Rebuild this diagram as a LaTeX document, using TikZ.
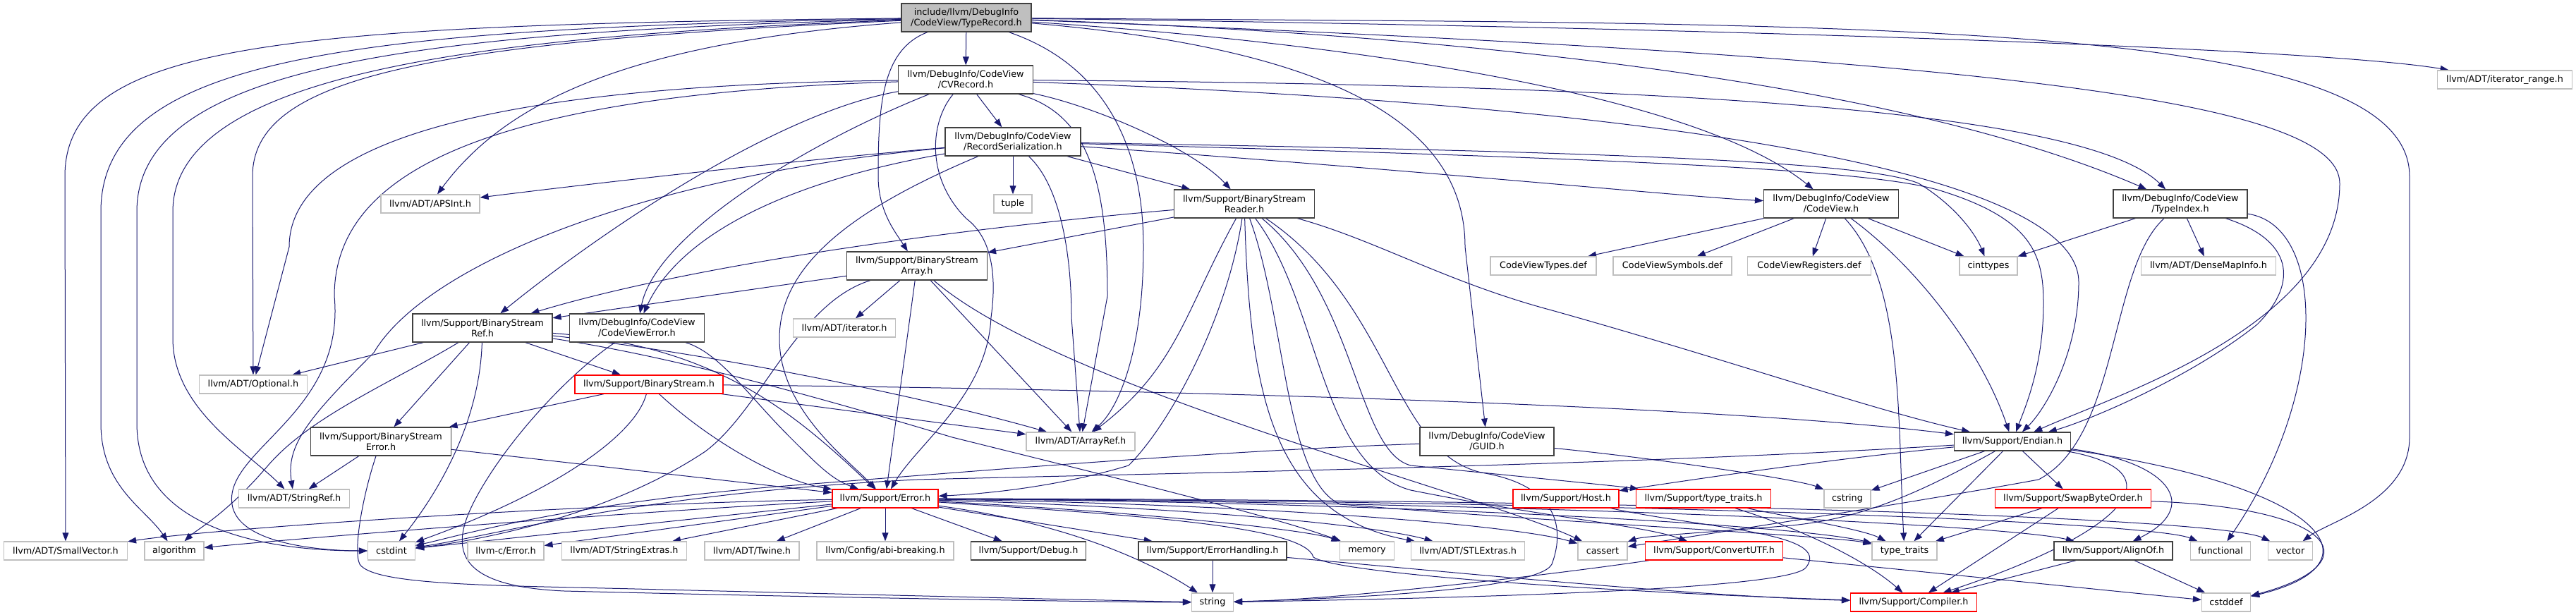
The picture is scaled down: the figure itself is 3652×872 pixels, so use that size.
\documentclass[tikz,border=0pt]{standalone}
\usepackage{fontspec}
\setmainfont{DejaVu Sans}
\usetikzlibrary{arrows.meta,backgrounds}
\definecolor{edgeblue}{RGB}{25,25,112}
\definecolor{extgray}{RGB}{191,191,191}
\definecolor{docline}{RGB}{64,64,64}
\definecolor{truncred}{RGB}{255,0,0}
\newcommand\dxfont{\fontsize{6.4}{7.5}\selectfont}
\tikzset{
  box/.style={rectangle, inner sep=0pt, align=center, font=\dxfont, line width=0.6pt, fill=white, minimum height=13pt},
  twoline/.style={minimum height=20pt},
  wd/.style={minimum width=#1*0.5pt},
  extnode/.style={box, draw=extgray},
  docnode/.style={box, draw=docline},
  trnode/.style={box, draw=truncred},
  rootnode/.style={box, draw=docline, fill=extgray},
  dep/.style={draw=edgeblue, line width=0.5pt, -{Triangle[length=6pt,width=4.4pt]}}
}
\begin{document}
\begin{tikzpicture}[x=0.5pt,y=-0.5pt]
\useasboundingbox (0,0) rectangle (3652,872);
% headers
\node[rootnode, twoline, wd=184] (root) at (1370,25) {include/llvm/DebugInfo\\/CodeView/TypeRecord.h};
\node[docnode, twoline, wd=191] (cvrec) at (1369,113) {llvm/DebugInfo/CodeView\\/CVRecord.h};
\node[extnode, wd=191] (itrange) at (3551,113) {llvm/ADT/iterator\_range.h};
\node[docnode, twoline, wd=192] (recser) at (1436,201) {llvm/DebugInfo/CodeView\\/RecordSerialization.h};
\node[extnode, wd=140] (apsint) at (610,289) {llvm/ADT/APSInt.h};
\node[extnode, wd=54] (tuple) at (1436,289) {tuple};
\node[docnode, twoline, wd=199] (bsreader) at (1764,289) {llvm/Support/BinaryStream\\Reader.h};
\node[docnode, twoline, wd=191] (cvview) at (2596,289) {llvm/DebugInfo/CodeView\\/CodeView.h};
\node[docnode, twoline, wd=190] (typeidx) at (3091,289) {llvm/DebugInfo/CodeView\\/TypeIndex.h};
\node[docnode, twoline, wd=199] (bsarray) at (1300,377) {llvm/Support/BinaryStream\\Array.h};
\node[extnode, wd=150] (cvtypes) at (2188,377) {CodeViewTypes.def};
\node[extnode, wd=168] (cvsyms) at (2371,377) {CodeViewSymbols.def};
\node[extnode, wd=175] (cvregs) at (2565,377) {CodeViewRegisters.def};
\node[extnode, wd=82] (cinttypes) at (2819,377) {cinttypes};
\node[extnode, wd=191] (densemap) at (3131,377) {llvm/ADT/DenseMapInfo.h};
\node[docnode, twoline, wd=198] (bsref) at (684,465) {llvm/Support/BinaryStream\\Ref.h};
\node[docnode, twoline, wd=191] (cverror) at (903,465) {llvm/DebugInfo/CodeView\\/CodeViewError.h};
\node[extnode, wd=145] (iterator) at (1197,465) {llvm/ADT/iterator.h};
\node[extnode, wd=153] (optional) at (359,545) {llvm/ADT/Optional.h};
\node[trnode, wd=210] (bstream) at (920,545) {llvm/Support/BinaryStream.h};
\node[docnode, twoline, wd=199] (bserror) at (540,626) {llvm/Support/BinaryStream\\Error.h};
\node[extnode, wd=154] (arrayref) at (1532,626) {llvm/ADT/ArrayRef.h};
\node[docnode, twoline, wd=190] (guid) at (2108,626) {llvm/DebugInfo/CodeView\\/GUID.h};
\node[docnode, wd=165] (endian) at (2853,626) {llvm/Support/Endian.h};
\node[extnode, wd=157] (stringref) at (417,707) {llvm/ADT/StringRef.h};
\node[trnode, wd=150] (error) at (1255,707) {llvm/Support/Error.h};
\node[trnode, wd=150] (host) at (2220,707) {llvm/Support/Host.h};
\node[trnode, wd=191] (lltraits) at (2415,707) {llvm/Support/type\_traits.h};
\node[extnode, wd=66] (cstring) at (2619,707) {cstring};
\node[trnode, wd=221] (swapbyte) at (2939,707) {llvm/Support/SwapByteOrder.h};
% bottom rows
\node[extnode, wd=175] (smallvec) at (93,781) {llvm/ADT/SmallVector.h};
\node[extnode, wd=84] (algorithm) at (247,781) {algorithm};
\node[extnode, wd=67] (cstdint) at (555,781) {cstdint};
\node[extnode, wd=108] (cerror) at (717,781) {llvm-c/Error.h};
\node[extnode, wd=177] (strext) at (885,781) {llvm/ADT/StringExtras.h};
\node[extnode, wd=134] (twine) at (1066,781) {llvm/ADT/Twine.h};
\node[extnode, wd=194] (abibreak) at (1255,781) {llvm/Config/abi-breaking.h};
\node[docnode, wd=163] (debug) at (1458,781) {llvm/Support/Debug.h};
\node[docnode, wd=210] (errhand) at (1719,781) {llvm/Support/ErrorHandling.h};
\node[extnode, wd=77] (memory) at (1938,781) {memory};
\node[extnode, wd=161] (stlext) at (2081,781) {llvm/ADT/STLExtras.h};
\node[extnode, wd=70] (cassert) at (2272,781) {cassert};
\node[trnode, wd=195] (convutf) at (2430,781) {llvm/Support/ConvertUTF.h};
\node[extnode, wd=92] (stdtraits) at (2700,781) {type\_traits};
\node[docnode, wd=168] (alignof) at (2996,781) {llvm/Support/AlignOf.h};
\node[extnode, wd=85] (functional) at (3148,781) {functional};
\node[extnode, wd=63] (vector) at (3247,781) {vector};
\node[extnode, wd=59] (string) at (1719,854) {string};
\node[trnode, wd=179] (compiler) at (2713,854) {llvm/Support/Compiler.h};
\node[extnode, wd=69] (cstddef) at (3156,854) {cstddef};

\begin{scope}[on background layer]
% TypeRecord.h
\draw[dep] (root) .. controls (400,35) and (92,60) .. (92,250) -- (smallvec);
\draw[dep] (root) .. controls (500,40) and (143,80) .. (143,300) -- (143,600) .. controls (143,690) and (205,720) .. (algorithm);
\draw[dep] (root) .. controls (600,45) and (194,90) .. (194,300) -- (194,600) .. controls (194,760) and (400,781) .. (cstdint);
\draw[dep] (root) .. controls (700,50) and (245,100) .. (245,300) -- (245,480) .. controls (245,580) and (350,640) .. (stringref);
\draw[dep] (root) .. controls (600,60) and (358,110) .. (358,250) -- (optional);
\draw[dep] (root) .. controls (900,60) and (720,140) .. (apsint);
\draw[dep] (root) -- (cvrec);
\draw[dep] (root) .. controls (1250,70) and (1245,150) .. (1245,250) .. controls (1245,300) and (1270,330) .. (bsarray);
\draw[dep] (root) .. controls (1560,90) and (1621,200) .. (1621,350) .. controls (1621,500) and (1585,580) .. (arrayref);
\draw[dep] (root) .. controls (1900,70) and (2077,180) .. (2077,350) -- (guid);
\draw[dep] (root) .. controls (1900,60) and (2400,130) .. (cvview);
\draw[dep] (root) .. controls (2100,50) and (2700,120) .. (typeidx);
\draw[dep] (root) .. controls (2800,80) and (3317,140) .. (3317,260) .. controls (3317,460) and (3000,560) .. (endian);
\draw[dep] (root) .. controls (2500,40) and (3300,70) .. (itrange);
\draw[dep] (root) .. controls (2600,35) and (3416,20) .. (3416,250) -- (3416,620) .. controls (3416,710) and (3300,740) .. (vector);
% CVRecord.h
\draw[dep] (cvrec) .. controls (700,120) and (410,200) .. (410,350) -- (optional);
\draw[dep] (cvrec) .. controls (1100,160) and (850,330) .. (bsref);
\draw[dep] (cvrec) .. controls (650,135) and (474,260) .. (474,420) .. controls (490,590) and (310,640) .. (330,720) .. controls (345,775) and (470,781) .. (cstdint);
\draw[dep] (cvrec) .. controls (1150,200) and (930,330) .. (cverror);
\draw[dep] (cvrec) -- (recser);
\draw[dep] (cvrec) .. controls (1550,150) and (1690,210) .. (bsreader);
\draw[dep] (cvrec) .. controls (1540,160) and (1570,250) .. (1570,420) -- (arrayref);
\draw[dep] (cvrec) .. controls (1320,170) and (1310,250) .. (1370,310) .. controls (1410,340) and (1412,400) .. (1405,450) .. controls (1400,560) and (1300,630) .. (error);
\draw[dep] (cvrec) .. controls (2300,120) and (2950,150) .. (typeidx);
\draw[dep] (cvrec) .. controls (2400,150) and (2947,250) .. (2947,400) .. controls (2947,500) and (2900,580) .. (endian);
% RecordSerialization.h
\draw[dep] (recser) .. controls (1100,230) and (800,265) .. (apsint);
\draw[dep] (recser) .. controls (900,250) and (600,380) .. (530,500) .. controls (440,590) and (405,630) .. (stringref);
\draw[dep] (recser) .. controls (1100,260) and (960,340) .. (cverror);
\draw[dep] (recser) .. controls (2000,240) and (2400,280) .. (cvview);
\draw[dep] (recser) -- (bsreader);
\draw[dep] (recser) .. controls (2300,225) and (2650,240) .. (2750,270) .. controls (2880,310) and (2897,360) .. (2897,430) .. controls (2897,520) and (2870,580) .. (endian);
\draw[dep] (recser) .. controls (2300,215) and (2650,230) .. (2720,260) .. controls (2770,290) and (2800,330) .. (cinttypes);
\draw[dep] (recser) .. controls (1500,260) and (1519,350) .. (1519,450) -- (arrayref);
\draw[dep] (recser) .. controls (1200,300) and (1105,380) .. (1105,480) .. controls (1105,580) and (1200,650) .. (error);
\draw[dep] (recser) -- (tuple);
% BinaryStreamReader.h
\draw[dep] (bsreader) -- (bsarray);
\draw[dep] (bsreader) .. controls (1400,320) and (1000,370) .. (bsref);
\draw[dep] (bsreader) .. controls (1680,440) and (1670,520) .. (arrayref);
\draw[dep] (bsreader) .. controls (1740,450) and (1660,600) .. (1600,660) .. controls (1500,690) and (1400,700) .. (error);
\draw[dep] (bsreader) .. controls (1772,550) and (1800,730) .. (stlext);
\draw[dep] (bsreader) .. controls (1823,450) and (1821,680) .. (1900,715) .. controls (2200,740) and (2600,760) .. (stdtraits);
\draw[dep] (bsreader) .. controls (1871,430) and (1871,660) .. (2000,695) .. controls (2200,735) and (2330,745) .. (convutf);
\draw[dep] (bsreader) .. controls (1923,420) and (1923,640) .. (2000,660) .. controls (2200,680) and (2300,690) .. (lltraits);
\draw[dep] (bsreader) .. controls (1973,430) and (1973,640) .. (2100,670) .. controls (2220,690) and (2215,760) .. (2200,800) .. controls (2180,840) and (1850,850) .. (string);
\draw[dep] (bsreader) .. controls (1950,340) and (2050,400) .. (2200,440) .. controls (2450,510) and (2650,580) .. (endian);
% BinaryStreamArray.h
\draw[dep] (bsarray) -- (bsref);
\draw[dep] (bsarray) -- (iterator);
\draw[dep] (bsarray) -- (arrayref);
\draw[dep] (bsarray) -- (error);
\draw[dep] (bsarray) .. controls (1500,550) and (2100,700) .. (cassert);
\draw[dep] (bsarray) .. controls (1130,430) and (1080,580) .. (1000,640) .. controls (850,740) and (650,770) .. (cstdint);
% BinaryStreamRef.h
\draw[dep] (bsref) -- (optional);
\draw[dep] (bsref) .. controls (560,540) and (440,590) .. (380,660) .. controls (320,730) and (280,750) .. (algorithm);
\draw[dep] (bsref) -- (bserror);
\draw[dep] (bsref) .. controls (680,600) and (620,700) .. (cstdint);
\draw[dep] (bsref) -- (bstream);
\draw[dep] (bsref) .. controls (1000,500) and (1300,560) .. (arrayref);
\draw[dep] (bsref) .. controls (1020,490) and (1130,590) .. (error);
\draw[dep] (bsref) .. controls (950,505) and (1150,560) .. (1350,620) .. controls (1550,670) and (1800,730) .. (memory);
% BinaryStream.h
\draw[dep] (bstream) -- (bserror);
\draw[dep] (bstream) .. controls (900,620) and (780,700) .. (cstdint);
\draw[dep] (bstream) .. controls (1000,620) and (1100,680) .. (error);
\draw[dep] (bstream) -- (arrayref);
\draw[dep] (bstream) .. controls (1500,550) and (2400,570) .. (endian);
% BinaryStreamError.h and CodeViewError.h
\draw[dep] (bserror) -- (stringref);
\draw[dep] (bserror) -- (error);
\draw[dep] (bserror) .. controls (515,700) and (500,780) .. (510,800) .. controls (530,830) and (700,830) .. (900,835) .. controls (1300,845) and (1600,852) .. (string);
\draw[dep] (cverror) .. controls (1020,500) and (1060,560) .. (1120,620) .. controls (1160,660) and (1180,680) .. (error);
\draw[dep] (cverror) .. controls (820,520) and (740,600) .. (690,680) .. controls (640,760) and (620,830) .. (800,838) .. controls (1200,848) and (1600,854) .. (string);
% Error.h
\draw[dep] (error) .. controls (800,715) and (300,750) .. (smallvec);
\draw[dep] (error) .. controls (900,725) and (400,765) .. (algorithm);
\draw[dep] (error) -- (cstdint);
\draw[dep] (error) -- (cerror);
\draw[dep] (error) -- (strext);
\draw[dep] (error) -- (twine);
\draw[dep] (error) -- (abibreak);
\draw[dep] (error) -- (debug);
\draw[dep] (error) -- (errhand);
\draw[dep] (error) .. controls (1500,740) and (1620,790) .. (string);
\draw[dep] (error) .. controls (1600,725) and (1850,750) .. (memory);
\draw[dep] (error) .. controls (1700,720) and (1950,745) .. (stlext);
\draw[dep] (error) .. controls (1800,715) and (2150,745) .. (cassert);
\draw[dep] (error) .. controls (2000,712) and (2550,745) .. (stdtraits);
\draw[dep] (error) .. controls (2200,712) and (2850,745) .. (alignof);
\draw[dep] (error) .. controls (2300,710) and (3050,740) .. (functional);
\draw[dep] (error) .. controls (2400,708) and (3150,735) .. (vector);
\draw[dep] (error) .. controls (1600,730) and (1850,745) .. (1862,790) .. controls (1900,815) and (2300,840) .. (compiler);
\draw[dep] (errhand) -- (string);
\draw[dep] (errhand) .. controls (2100,815) and (2400,845) .. (compiler);
% Endian.h
\draw[dep] (endian) .. controls (2600,650) and (2400,680) .. (host);
\draw[dep] (endian) -- (cstring);
\draw[dep] (endian) -- (stdtraits);
\draw[dep] (endian) -- (swapbyte);
\draw[dep] (endian) .. controls (3080,655) and (3120,720) .. (alignof);
\draw[dep] (endian) .. controls (3300,690) and (3380,800) .. (cstddef);
\draw[dep] (endian) .. controls (3100,670) and (3000,760) .. (compiler);
\draw[dep] (endian) .. controls (2300,660) and (1700,670) .. (1300,680) .. controls (900,700) and (700,760) .. (cstdint);
\draw[dep] (endian) .. controls (2720,700) and (2640,735) .. (2540,745) .. controls (2420,755) and (2330,760) .. (cassert);
\draw[dep] (host) .. controls (2420,750) and (2600,755) .. (2560,805) .. controls (2530,840) and (1950,850) .. (string);
\draw[dep] (lltraits) .. controls (2520,730) and (2640,750) .. (stdtraits);
\draw[dep] (lltraits) .. controls (2540,745) and (2640,790) .. (compiler);
\draw[dep] (swapbyte) -- (stdtraits);
\draw[dep] (swapbyte) -- (compiler);
\draw[dep] (swapbyte) .. controls (3320,720) and (3360,800) .. (cstddef);
\draw[dep] (alignof) -- (compiler);
\draw[dep] (alignof) -- (cstddef);
\draw[dep] (convutf) .. controls (2200,815) and (1900,850) .. (string);
\draw[dep] (convutf) -- (cstddef);
% CodeView.h and TypeIndex.h
\draw[dep] (cvview) -- (cvtypes);
\draw[dep] (cvview) -- (cvsyms);
\draw[dep] (cvview) -- (cvregs);
\draw[dep] (cvview) -- (cinttypes);
\draw[dep] (cvview) .. controls (2720,380) and (2810,500) .. (endian);
\draw[dep] (cvview) .. controls (2700,400) and (2690,600) .. (stdtraits);
\draw[dep] (typeidx) -- (cinttypes);
\draw[dep] (typeidx) -- (densemap);
\draw[dep] (typeidx) .. controls (3250,340) and (3260,400) .. (3200,460) .. controls (3100,540) and (2950,600) .. (endian);
\draw[dep] (typeidx) .. controls (3300,320) and (3300,560) .. (functional);
\draw[dep] (typeidx) .. controls (2990,380) and (3005,620) .. (2890,680) .. controls (2700,715) and (2400,760) .. (cassert);
% GUID.h
\draw[dep] (guid) .. controls (1700,640) and (1300,675) .. (1100,690) .. controls (800,715) and (650,760) .. (cstdint);
\draw[dep] (guid) .. controls (2350,650) and (2550,680) .. (cstring);
\end{scope}
\end{tikzpicture}
\end{document}
